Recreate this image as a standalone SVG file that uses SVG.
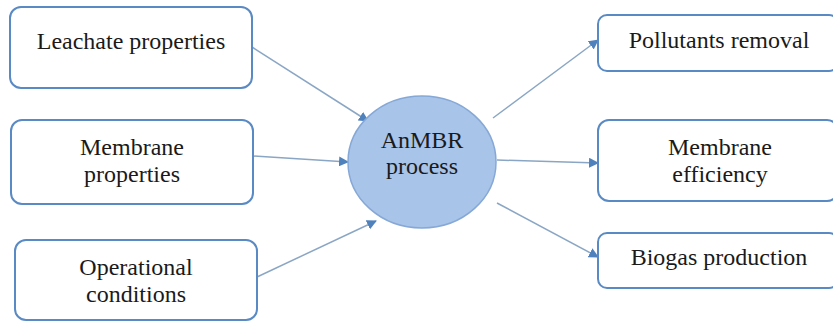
<svg xmlns="http://www.w3.org/2000/svg" width="833" height="322" viewBox="0 0 833 322">
<style>
.box{fill:#fff;stroke:#5a8ac4;stroke-width:2}
.t{font-family:"Liberation Serif","Times New Roman",serif;font-size:24px;fill:#1a1a1a;text-anchor:middle}
.c{stroke:#8aa6c4;stroke-width:1.5;fill:none;marker-end:url(#ah)}
</style>
<defs>
<marker id="ah" viewBox="0 0 10 10" refX="9" refY="5" markerWidth="10" markerHeight="10" markerUnits="userSpaceOnUse" orient="auto">
<path d="M0,0 L10,5 L0,10 Z" fill="#4f81bd"/>
</marker>
</defs>
<rect width="833" height="322" fill="#fff"/>
<g id="connectors">
<line class="c" x1="252" y1="47" x2="368" y2="121"/>
<line class="c" x1="253" y1="156" x2="348" y2="162"/>
<line class="c" x1="257" y1="277" x2="376" y2="221"/>
<line class="c" x1="493" y1="118" x2="598" y2="40"/>
<line class="c" x1="497" y1="160" x2="598" y2="163"/>
<line class="c" x1="497" y1="203" x2="598" y2="257"/>
</g>
<g id="leachate">
<rect class="box" x="10" y="7" width="242" height="81" rx="11"/>
<text class="t" x="131" y="49">Leachate properties</text>
</g>
<g id="membrane-props">
<rect class="box" x="11" y="120" width="242" height="84" rx="11"/>
<text class="t" x="132" y="155">Membrane</text>
<text class="t" x="132" y="182">properties</text>
</g>
<g id="operational">
<rect class="box" x="15" y="240" width="242" height="80" rx="11"/>
<text class="t" x="136" y="275">Operational</text>
<text class="t" x="136" y="302">conditions</text>
</g>
<g id="anmbr">
<ellipse cx="422" cy="162" rx="74" ry="66" fill="#a8c4e9" stroke="#86a8d6" stroke-width="1.5"/>
<text class="t" x="422" y="148">AnMBR</text>
<text class="t" x="422" y="174">process</text>
</g>
<g id="pollutants">
<rect class="box" x="598" y="15" width="240" height="56" rx="9"/>
<text class="t" x="719" y="48">Pollutants removal</text>
</g>
<g id="membrane-eff">
<rect class="box" x="598" y="120" width="240" height="81" rx="11"/>
<text class="t" x="720" y="155">Membrane</text>
<text class="t" x="720" y="182">efficiency</text>
</g>
<g id="biogas">
<rect class="box" x="598" y="233" width="240" height="55" rx="9"/>
<text class="t" x="719" y="265">Biogas production</text>
</g>
</svg>
